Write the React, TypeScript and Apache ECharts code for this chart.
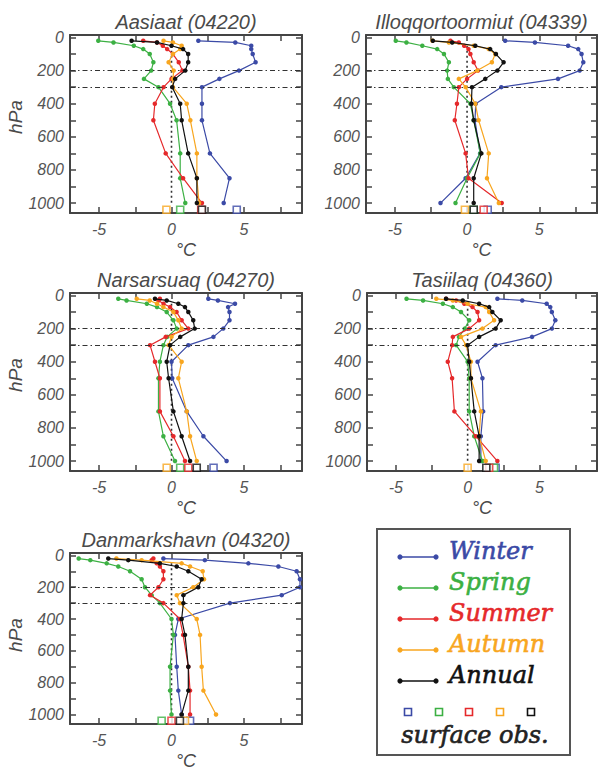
import React, { useEffect, useRef } from "react";
import * as echarts from "echarts";

// Pressure levels (hPa) of the profile points
const levels = [20, 30, 50, 70, 100, 150, 200, 250, 300, 400, 500, 700, 850, 1000];
const surfaceLevel = 1040;
const seasons = ["Winter", "Spring", "Summer", "Autumn", "Annual"];
const seasonColors = ["#3b4aa6", "#3cb043", "#e5292b", "#f8a61f", "#111111"];

const xTickValues = [-5, -2.5, 0, 2.5, 5, 7.5];
const xLabelValues = [-5, 0, 5];
const yTickValues = [0, 100, 200, 300, 400, 500, 600, 700, 800, 900, 1000];
const yLabelValues = [0, 200, 400, 600, 800, 1000];
const refLevels = [200, 300];

// Aasiaat (04220)
const aasiaatWinter = [1.85, 4.4, 5.5, 5.5, 5.6, 5.8, 4.65, 3.3, 2.1, 2.1, 2.1, 2.65, 4.0, 3.6];
const aasiaatSpring = [-5.05, -4.0, -2.6, -1.95, -1.5, -1.25, -1.4, -1.9, -0.9, -0.1, 0.35, 0.6, 0.6, 0.95];
const aasiaatSummer = [-1.95, -1.0, -0.6, -0.3, 0.1, 0.5, 0.75, 0.0, -0.55, -1.15, -1.25, -0.4, 0.8, 2.1];
const aasiaatAutumn = [-0.55, 0.1, 0.7, 0.6, 0.1, -0.2, 0.15, 0.1, 0.1, 1.05, 1.3, 1.75, 1.75, 1.9];
const aasiaatAnnual = [-2.75, -1.0, 0.0, 0.8, 1.15, 1.15, 0.95, 0.25, 0.05, 0.6, 0.7, 1.15, 1.75, 1.75];
const aasiaatSurface = [4.5, 0.6, 2.05, -0.35, 2.1];

// Illoqqortoormiut (04339)
const illoqWinter = [2.64, 4.7, 7.0, 7.7, 7.93, 8.05, 7.8, 6.3, 2.37, 0.6, 0.55, 0.9, -0.1, -1.84];
const illoqSpring = [-4.94, -4.2, -3.1, -2.07, -1.6, -1.26, -1.38, -1.33, -0.92, 0.23, 0.46, 0.92, 0.0, -0.8];
const illoqSummer = [-1.15, -0.57, -0.2, 0.1, 0.23, 0.46, 0.76, 0.0, -0.57, -0.7, -0.85, -0.1, 0.1, 2.4];
const illoqAutumn = [-2.4, -1.26, 0.46, 1.5, 1.95, 1.72, 0.7, -0.57, -0.1, 0.57, 0.8, 1.5, 1.38, 2.2];
const illoqAnnual = [-2.37, -1.03, 0.57, 1.6, 2.0, 2.53, 2.1, 1.26, 0.34, 0.3, 0.46, 0.99, 0.46, 0.46];
const illoqSurface = [1.43, 0.46, 1.15, -0.15, 0.46];

// Narsarsuaq (04270)
const narsWinter = [2.54, 3.2, 4.38, 3.9, 4.0, 4.0, 3.57, 2.89, 1.16, 0.0, 0.05, 1.05, 2.2, 3.8];
const narsSpring = [-3.67, -3.1, -1.7, -1.0, -0.33, 0.13, 0.36, -0.3, -0.56, -0.8, -0.9, -0.9, -0.56, 0.24];
const narsSummer = [-0.8, -0.9, -0.55, -0.1, 0.35, 0.7, 1.16, -0.4, -1.48, -1.14, -0.8, -0.8, 0.13, 0.93];
const narsAutumn = [-2.4, -1.5, -1.0, -0.56, 0.13, 0.47, 0.7, 0.0, -0.2, 0.7, 0.47, 1.05, 1.28, 1.74];
const narsAnnual = [-1.14, -0.33, 0.47, 0.93, 1.16, 1.5, 1.6, 0.6, -0.1, -0.33, -0.2, 0.13, 0.7, 1.28];
const narsSurface = [2.9, 0.6, 1.16, -0.33, 1.74];

// Tasiilaq (04360)
const tasiWinter = [2.07, 3.8, 5.5, 5.75, 5.86, 6.1, 5.86, 4.48, 1.95, 0.69, 1.03, 1.08, 0.92, 0.92];
const tasiSpring = [-4.25, -3.1, -1.72, -1.03, -0.46, 0.11, -0.2, -0.6, -0.8, 0.0, 0.11, 0.11, 0.46, 1.03];
const tasiSummer = [-1.5, -0.8, -0.23, 0.34, 0.69, 0.8, 0.11, -1.03, -1.08, -1.38, -1.08, -0.92, 0.57, 2.07];
const tasiAutumn = [-2.18, -1.03, 0.0, 1.26, 1.5, 1.84, 1.03, -0.46, -0.11, 0.23, 0.23, 0.92, 0.8, 1.26];
const tasiAnnual = [-1.5, -0.34, 0.8, 1.5, 1.72, 2.3, 1.95, 0.8, 0.0, 0.11, 0.23, 0.46, 0.8, 0.8];
const tasiSurface = [1.95, 1.84, 1.5, 0.0, 1.3];

// Danmarkshavn (04320)
const danWinter = [-0.56, 2.3, 5.3, 7.37, 8.63, 8.86, 8.86, 7.6, 4.03, 0.47, 0.24, 0.36, 0.47, 0.7];
const danSpring = [-6.4, -5.6, -4.47, -3.67, -2.86, -2.06, -1.83, -1.37, -0.8, 0.0, 0.13, -0.1, -0.1, 0.0];
const danSummer = [-1.25, -1.37, -1.02, -0.8, -0.56, -0.56, -0.9, -1.48, -0.56, 0.58, 0.8, 1.16, 1.28, 1.28];
const danAutumn = [-3.8, -2.06, 0.7, 1.28, 2.15, 2.24, 1.5, 0.36, 0.58, 1.74, 1.97, 2.08, 2.2, 3.07];
const danAnnual = [-4.36, -2.98, -0.8, 0.36, 1.16, 2.08, 1.85, 0.82, 0.82, 0.7, 0.93, 1.16, 1.16, 0.7];
const danSurface = [1.28, -0.68, 0.0, 0.93, 0.58];

const stationNames = [
  "Aasiaat (04220)",
  "Illoqqortoormiut (04339)",
  "Narsarsuaq (04270)",
  "Tasiilaq (04360)",
  "Danmarkshavn (04320)",
];
const stationProfiles = [
  [aasiaatWinter, aasiaatSpring, aasiaatSummer, aasiaatAutumn, aasiaatAnnual],
  [illoqWinter, illoqSpring, illoqSummer, illoqAutumn, illoqAnnual],
  [narsWinter, narsSpring, narsSummer, narsAutumn, narsAnnual],
  [tasiWinter, tasiSpring, tasiSummer, tasiAutumn, tasiAnnual],
  [danWinter, danSpring, danSummer, danAutumn, danAnnual],
];
const stationSurface = [aasiaatSurface, illoqSurface, narsSurface, tasiSurface, danSurface];

const AXIS_COLOR = "#444";
const TEXT_COLOR = "#4a4a4a";
const LABEL_FONT = "Liberation Sans";
const LEGEND_FONT = 'italic 24px "DejaVu Serif"';

export default function App() {
  const ref = useRef<HTMLDivElement>(null);

  useEffect(() => {
    if (!ref.current) return;
    const chart = echarts.init(ref.current, undefined, { renderer: "svg" });

    const grids = [
      { left: 70, top: 35, width: 232, height: 178 },
      { left: 366, top: 35, width: 231, height: 178 },
      { left: 70, top: 293, width: 232, height: 178 },
      { left: 367, top: 293, width: 230, height: 178 },
      { left: 70, top: 553, width: 232, height: 178 },
    ];

    const xAxes: any[] = [];
    const yAxes: any[] = [];
    const series: any[] = [];
    const graphics: any[] = [];

    const tickStyle = { color: AXIS_COLOR, width: 1.5 };
    const lineStyle = { color: AXIS_COLOR, width: 2 };

    grids.forEach((g, i) => {
      xAxes.push({
        gridIndex: i,
        type: "value",
        position: "bottom",
        min: -7,
        max: 9,
        axisLine: { show: true, onZero: false, lineStyle },
        axisTick: { show: true, inside: true, length: 6, customValues: xTickValues, lineStyle: tickStyle },
        axisLabel: {
          show: true,
          customValues: xLabelValues,
          margin: 8,
          fontFamily: LABEL_FONT,
          fontStyle: "italic",
          fontSize: 16,
          color: "#555",
          formatter: (v: number) => String(v),
        },
        splitLine: { show: false },
        name: "°C",
        nameLocation: "middle",
        nameGap: 28,
        nameTextStyle: { fontFamily: LABEL_FONT, fontStyle: "italic", fontSize: 18, color: TEXT_COLOR },
      });
      xAxes.push({
        gridIndex: i,
        type: "value",
        position: "top",
        min: -7,
        max: 9,
        axisLine: { show: true, onZero: false, lineStyle },
        axisTick: { show: true, inside: true, length: 6, customValues: xTickValues, lineStyle: tickStyle },
        axisLabel: { show: false },
        splitLine: { show: false },
      });
      yAxes.push({
        gridIndex: i,
        type: "value",
        position: "left",
        inverse: true,
        min: -15,
        max: 1060,
        axisLine: { show: true, onZero: false, lineStyle },
        axisTick: { show: true, inside: true, length: 6, customValues: yTickValues, lineStyle: tickStyle },
        axisLabel: {
          show: true,
          customValues: yLabelValues,
          margin: 6,
          fontFamily: LABEL_FONT,
          fontStyle: "italic",
          fontSize: 16,
          color: "#555",
          formatter: (v: number) => String(v),
        },
        splitLine: { show: false },
      });
      yAxes.push({
        gridIndex: i,
        type: "value",
        position: "right",
        inverse: true,
        min: -15,
        max: 1060,
        axisLine: { show: true, onZero: false, lineStyle },
        axisTick: { show: true, inside: true, length: 6, customValues: yTickValues, lineStyle: tickStyle },
        axisLabel: { show: false },
        splitLine: { show: false },
      });

      // reference lines: dotted 0 °C line and dash-dot 200/300 hPa lines
      series.push({
        type: "line",
        xAxisIndex: 2 * i,
        yAxisIndex: 2 * i,
        data: [
          [0, 50],
          [0, 1000],
        ],
        symbol: "none",
        silent: true,
        z: 1,
        lineStyle: { color: "#333", width: 1.6, type: [2, 3] },
        markLine: {
          silent: true,
          symbol: "none",
          label: { show: false },
          lineStyle: { color: "#333", width: 1.2, type: [5, 3, 1.5, 3] },
          data: refLevels.map((v) => ({ yAxis: v })),
        },
      });

      stationProfiles[i].forEach((temps, s) => {
        series.push({
          type: "line",
          name: seasons[s],
          xAxisIndex: 2 * i,
          yAxisIndex: 2 * i,
          data: levels.map((p, k) => [temps[k], p]),
          symbol: "circle",
          symbolSize: 4.5,
          z: 2 + s,
          lineStyle: { color: seasonColors[s], width: 1.2 },
          itemStyle: { color: seasonColors[s] },
        });
      });

      series.push({
        type: "scatter",
        xAxisIndex: 2 * i,
        yAxisIndex: 2 * i,
        symbol: "rect",
        symbolSize: 7,
        z: 10,
        data: stationSurface[i].map((t, s) => ({
          value: [t, surfaceLevel],
          itemStyle: { color: "#fff", borderColor: seasonColors[s], borderWidth: 1.6 },
        })),
      });

      graphics.push({
        type: "text",
        x: g.left + g.width / 2,
        y: g.top - 13,
        style: {
          text: stationNames[i],
          font: `italic 20px "${LABEL_FONT}"`,
          fill: TEXT_COLOR,
          align: "center",
          verticalAlign: "middle",
          textAlign: "center",
          textVerticalAlign: "middle",
        },
      });
      if (i % 2 === 0) {
        graphics.push({
          type: "text",
          x: 15,
          y: g.top + 82,
          rotation: Math.PI / 2,
          style: {
            text: "hPa",
            font: `italic 19px "${LABEL_FONT}"`,
            fill: TEXT_COLOR,
            align: "center",
            verticalAlign: "middle",
            textAlign: "center",
            textVerticalAlign: "middle",
          },
        });
      }
    });

    // Legend box
    const legend: any[] = [
      {
        type: "rect",
        shape: { x: 377, y: 529, width: 193, height: 226 },
        style: { fill: "#fff", stroke: "#555", lineWidth: 2 },
      },
    ];
    seasons.forEach((s, i) => {
      const ly = 557 + i * 31;
      const c = seasonColors[i];
      legend.push(
        { type: "line", shape: { x1: 400, y1: ly, x2: 436, y2: ly }, style: { stroke: c, lineWidth: 1.5 } },
        { type: "circle", shape: { cx: 400, cy: ly, r: 2.6 }, style: { fill: c } },
        { type: "circle", shape: { cx: 436, cy: ly, r: 2.6 }, style: { fill: c } },
        {
          type: "text",
          x: 449,
          y: ly - 6,
          style: {
            text: s,
            font: LEGEND_FONT,
            fill: c,
            stroke: c,
            lineWidth: 0.6,
            verticalAlign: "middle",
            textVerticalAlign: "middle",
          },
        }
      );
    });
    [408, 439, 469, 500, 531].forEach((x, i) => {
      legend.push({
        type: "rect",
        shape: { x: x - 3.5, y: 708.5, width: 7, height: 7 },
        style: { fill: "#fff", stroke: seasonColors[i], lineWidth: 1.6 },
      });
    });
    legend.push({
      type: "text",
      x: 475,
      y: 735,
      style: {
        text: "surface obs.",
        font: LEGEND_FONT,
        fill: "#222",
        stroke: "#222",
        lineWidth: 0.6,
        align: "center",
        verticalAlign: "middle",
        textAlign: "center",
        textVerticalAlign: "middle",
      },
    });

    chart.setOption({
      animation: false,
      backgroundColor: "#fff",
      grid: grids,
      xAxis: xAxes,
      yAxis: yAxes,
      series,
      graphic: [...graphics, ...legend],
    });

    return () => chart.dispose();
  }, []);

  return (
    <div
      ref={ref}
      style={{ position: "fixed", left: 0, top: 0, width: 598, height: 771, background: "#fff" }}
    />
  );
}
